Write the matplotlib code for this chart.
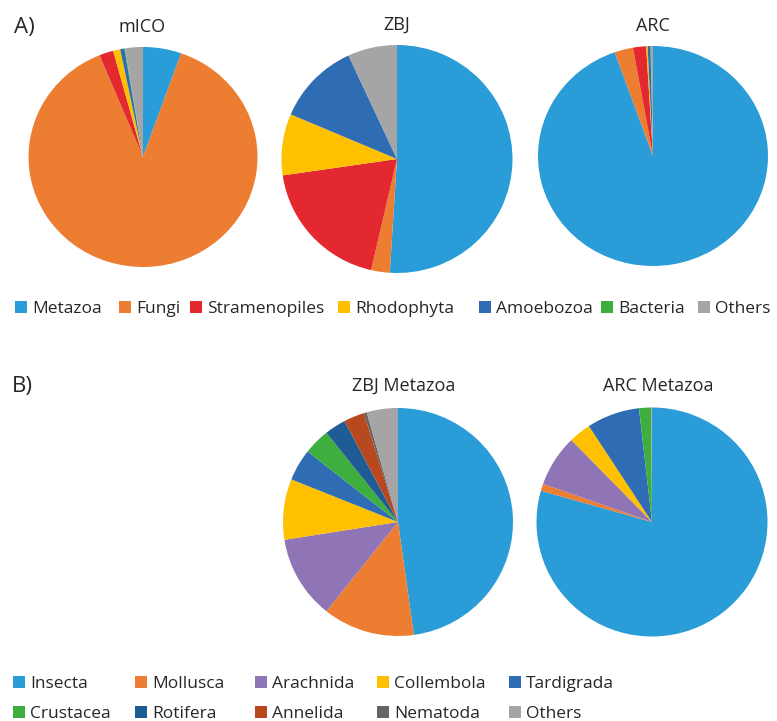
import matplotlib
matplotlib.use("Agg")
import matplotlib.pyplot as plt
from matplotlib.patches import Rectangle

plt.rcParams["font.family"] = ["Open Sans", "DejaVu Sans"]

W, H = 777, 721

# Panel A: composition by kingdom (percent of reads)
kingdoms = ["Metazoa", "Fungi", "Stramenopiles", "Rhodophyta",
            "Amoebozoa", "Bacteria", "Others"]
kingdom_colors = ["#2A9CD7", "#ED7D31", "#E3292F", "#FFC000",
                  "#2E6DB4", "#3EAE3E", "#A5A5A5"]
mico_vals = [5.4, 88.4, 2.0, 1.0, 0.6, 0.1, 2.5]
zbj_vals = [51.0, 2.6, 19.1, 8.7, 11.7, 0.0, 6.9]
arc_vals = [94.6, 2.6, 1.85, 0.2, 0.4, 0.05, 0.3]

# Panel B: composition of the metazoan fraction
taxa = ["Insecta", "Mollusca", "Arachnida", "Collembola", "Tardigrada",
        "Crustacea", "Rotifera", "Annelida", "Nematoda", "Others"]
taxa_colors = ["#2A9CD7", "#ED7D31", "#8F75B5", "#FFC000", "#2E6DB4",
               "#3EAE3E", "#1F5C96", "#B8491E", "#646464", "#A5A5A5"]
zbj_meta_vals = [47.8, 12.9, 11.8, 8.6, 4.5, 3.7, 3.0, 2.9, 0.4, 4.4]
arc_meta_vals = [79.4, 1.0, 7.3, 3.1, 7.4, 1.7, 0.0, 0.0, 0.0, 0.1]

fig = plt.figure(figsize=(W / 100, H / 100), dpi=100)
fig.patch.set_facecolor("white")


def fx(x):
    return x / W


def fy(y):
    return 1 - y / H


def pie_at(cx, cy, rx, ry, values, colors):
    ax = fig.add_axes([fx(cx - rx), fy(cy + ry), 2 * rx / W, 2 * ry / H])
    ax.pie(values, colors=colors, startangle=90, counterclock=False,
           radius=1.0, wedgeprops=dict(linewidth=0))
    ax.set_aspect("auto")
    ax.set_xlim(-1, 1)
    ax.set_ylim(-1, 1)
    ax.axis("off")
    return ax


def title_at(x, y, text, size=13, ha="center"):
    fig.text(fx(x), fy(y), text, ha=ha, va="baseline", fontsize=size,
             color="#262626")


def legend_item(x, y, label, color, size=12.5, sq=12, gap=17):
    fig.add_artist(Rectangle((fx(x), fy(y + sq)), sq / W, sq / H,
                             transform=fig.transFigure, color=color, lw=0))
    fig.text(fx(x + gap), fy(y + sq), label, ha="left", va="baseline",
             fontsize=size, color="#262626")


# Row A pies
pie_at(143, 157, 114.5, 110, mico_vals, kingdom_colors)
pie_at(397, 159, 115.5, 114, zbj_vals, kingdom_colors)
pie_at(653, 156, 115, 110, arc_vals, kingdom_colors)

title_at(14, 33, "A)", size=16, ha="left")
title_at(142, 32, "mICO")
title_at(397, 30, "ZBJ")
title_at(653, 31, "ARC")

# Row A legend
legend_a_x = [15, 119, 190, 338, 479, 601, 698]
for x, lab, col in zip(legend_a_x, kingdoms, kingdom_colors):
    legend_item(x, 301, lab, col)

# Row B pies
pie_at(398, 522, 115, 114, zbj_meta_vals, taxa_colors)
pie_at(652, 522, 115.5, 114.5, arc_meta_vals, taxa_colors)

title_at(12, 392, "B)", size=16, ha="left")
title_at(404, 391, "ZBJ Metazoa")
title_at(658, 391, "ARC Metazoa")

# Row B legend: two rows of five
legend_b_x = [13, 135, 255, 377, 509]
legend_b_y = [676, 706]
for i, (lab, col) in enumerate(zip(taxa, taxa_colors)):
    legend_item(legend_b_x[i % 5], legend_b_y[i // 5], lab, col)

fig.savefig("out.png", dpi=100, facecolor="white")
